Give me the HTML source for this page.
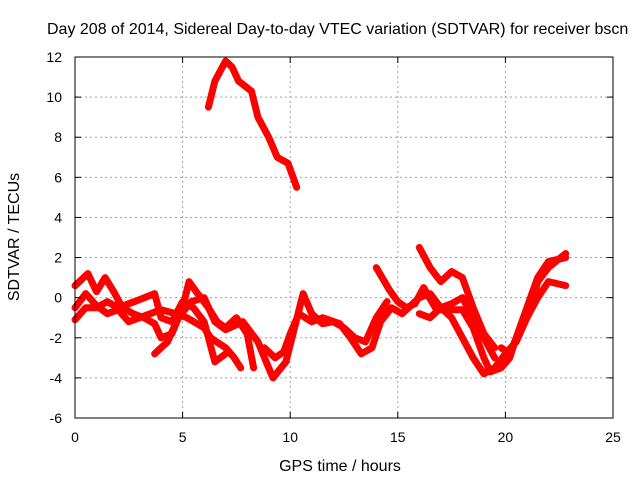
<!DOCTYPE html>
<html><head><meta charset="utf-8"><style>
body{margin:0;background:#fff}
svg{display:block;font-family:"Liberation Sans",Arial,sans-serif}
</style></head><body>
<svg id="chart" width="640" height="480" viewBox="0 0 640 480">
<rect width="640" height="480" fill="#fff"/>
<text x="47" y="34" font-size="16" fill="#000">Day 208 of 2014, Sidereal Day-to-day VTEC variation (SDTVAR) for receiver bscn</text>
<g id="grid"></g><g id="series"></g><g id="axes"></g>
<text x="340" y="471" font-size="16" text-anchor="middle">GPS time / hours</text>
<text transform="translate(19,237) rotate(-90)" font-size="16" text-anchor="middle">SDTVAR / TECUs</text>
</svg>
<script>
const xTicks=[0,5,10,15,20,25];
const yTicks=[-6,-4,-2,0,2,4,6,8,10,12];
const trackA=[[6.2,9.5],[6.5,10.8],[7.0,11.8],[7.3,11.5],[7.6,10.8],[8.2,10.3],[8.5,9.0],[9.0,8.0],[9.4,7.0],[9.9,6.7],[10.3,5.5]];
const trackB=[[0,0.6],[0.6,1.2],[1,0.3],[1.4,1.0],[1.8,0.3],[2.2,-0.5],[2.7,-0.8],[3.2,-1.0],[3.7,-1.3],[4.0,-2.0],[4.5,-1.8],[5.0,-0.5],[5.3,0.8],[5.7,0.2],[6.2,-0.5],[6.6,-1.2],[7.0,-1.5],[7.5,-1.0],[8.0,-1.8],[8.3,-3.5]];
const trackC=[[0,-1.1],[0.5,-0.5],[1,-0.5],[1.5,-0.2],[2.0,-0.5],[2.5,-0.3],[3,-0.1],[3.7,0.2],[4,-1.0],[4.5,-1.2],[5.0,-0.2],[5.5,-0.5],[6.0,-1.2],[6.5,-3.2],[7.0,-2.8]];
const trackD=[[0,-0.5],[0.5,0.2],[1,-0.4],[1.5,-0.8],[2,-0.6],[2.5,-1.2],[3,-1.0],[3.5,-0.8],[4,-0.6],[4.7,-0.8],[5.2,-1.0],[6,-1.5],[6.3,-2.0],[7.0,-2.5],[7.4,-3.0],[7.7,-3.5]];
const trackE=[[3.7,-2.8],[4.3,-2.2],[4.8,-1.0],[5.4,-0.2],[6.0,0],[6.5,-1.2],[7,-1.6],[7.8,-1.2],[8.5,-2.2],[9.0,-3.5],[9.2,-4.0],[9.8,-3.2],[10.2,-1.5],[10.6,0.2],[11,-0.8],[11.5,-1.3],[12,-1.2],[12.5,-1.5],[13,-2.0],[13.5,-2.2],[14,-1.0],[14.5,-0.2]];
const trackF=[[8.8,-2.5],[9.3,-3.0],[9.7,-2.7],[10.0,-1.8],[10.4,-0.8],[11,-1.2],[11.5,-1.0],[12.3,-1.3],[12.8,-2.0],[13.3,-2.8],[13.8,-2.5],[14.2,-1.2],[14.7,-0.5],[15.2,-0.8],[16,0.0],[16.5,0.2],[17,-0.5],[17.5,-0.3],[18,0.0],[18.5,-1.0],[19,-2.0],[19.5,-3.0]];
const trackG=[[14,1.5],[14.6,0.4],[15,-0.2],[15.4,-0.5],[15.8,-0.3],[16.2,0.5],[16.8,-0.6],[17.5,-0.6],[18.0,-0.6],[18.5,-1.5],[19,-3.0],[19.3,-3.7],[19.8,-3.5],[20.2,-3.0],[20.5,-2.0],[21,-0.5],[21.5,1.0],[22,1.8],[22.8,2.0]];
const trackH=[[16,2.5],[16.5,1.5],[17.0,0.8],[17.5,1.3],[18,1.0],[18.5,-0.5],[19,-1.8],[19.5,-2.5]];
const trackI=[[16,-0.8],[16.5,-1.0],[17,-0.5],[17.5,-1.0],[18,-2.0],[18.5,-3.0],[19,-3.8],[19.5,-3.5],[20,-2.8],[20.5,-2.2],[21,-1.0],[21.5,0],[22,0.8],[22.8,0.6]];
const trackJ=[[19.8,-2.5],[20.2,-2.8],[20.7,-1.5],[21.2,-0.5],[21.5,0.8],[22,1.5],[22.8,2.2]];
const tracks=[trackA,trackB,trackC,trackD,trackE,trackF,trackG,trackH,trackI,trackJ];
const X0=75,X1=613,Y0=418,Y1=57;
const xs=v=>X0+(v-0)/25*(X1-X0);
const ys=v=>Y0-(v+6)/18*(Y0-Y1);
const NS="http://www.w3.org/2000/svg";
const grid=document.getElementById('grid'),axes=document.getElementById('axes'),ser=document.getElementById('series');
function mk(tag,attrs,parent){const e=document.createElementNS(NS,tag);for(const k in attrs)e.setAttribute(k,attrs[k]);parent.appendChild(e);return e;}
xTicks.forEach(t=>{const x=xs(t);
 if(t>0&&t<25){const g=mk('line',{x1:x,x2:x,y1:Y0,y2:Y1,stroke:'#a0a0a0','stroke-dasharray':'2,3'},grid);
 
 }
 mk('line',{x1:x,x2:x,y1:Y0,y2:Y0-6,stroke:'#000'},axes);mk('line',{x1:x,x2:x,y1:Y1,y2:Y1+6,stroke:'#000'},axes);
 const l=mk('text',{x:x,y:Y0+24,'font-size':14,'text-anchor':'middle'},axes);l.textContent=t;
 
 });
yTicks.forEach(t=>{const y=ys(t);
 if(t>-6&&t<12){const g=mk('line',{x1:X0,x2:X1,y1:y,y2:y,stroke:'#a0a0a0','stroke-dasharray':'2,3'},grid);
 
 }
 mk('line',{x1:X0,x2:X0+6,y1:y,y2:y,stroke:'#000'},axes);mk('line',{x1:X1,x2:X1-6,y1:y,y2:y,stroke:'#000'},axes);
 const l=mk('text',{x:X0-13,y:y+5,'font-size':14,'text-anchor':'end'},axes);l.textContent=t;
 
 });
const frame=mk('rect',{x:X0,y:Y1,width:X1-X0,height:Y0-Y1,fill:'none',stroke:'#000'},axes);


tracks.forEach(tr=>{const p=mk('polyline',{points:tr.map(d=>xs(d[0])+','+ys(d[1])).join(' '),fill:'none',stroke:'#ff0000','stroke-width':7,'stroke-linejoin':'round','stroke-linecap':'round'},ser);
 
 });
</script>
</body></html>
